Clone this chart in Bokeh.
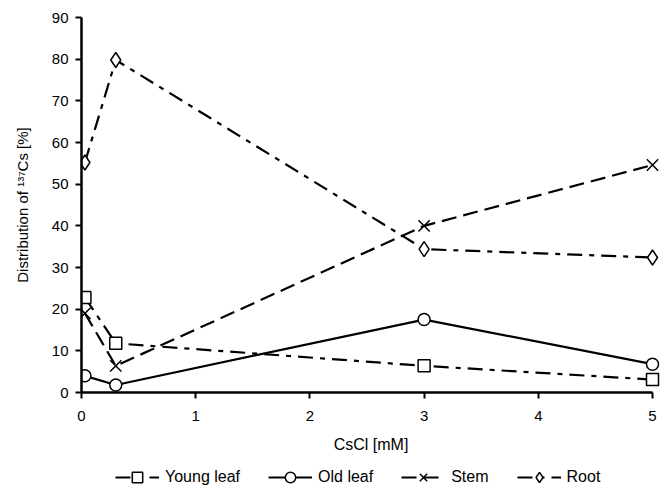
from bokeh.plotting import figure
from bokeh.models import Legend, LegendItem, Range1d, FixedTicker
from bokeh.layouts import column
from bokeh.embed import file_html
from bokeh.resources import INLINE

# Data
x_vals = [0.03, 0.3, 3, 5]
young_leaf = [22.8, 11.8, 6.4, 3.1]
old_leaf = [4.0, 1.8, 17.5, 6.8]
stem = [19.0, 6.4, 40.0, 54.6]
root = [55.2, 79.8, 34.4, 32.4]
x_ticks = [0, 1, 2, 3, 4, 5]
y_ticks = [0, 10, 20, 30, 40, 50, 60, 70, 80, 90]
series_names = ["Young leaf", "Old leaf", "Stem", "Root"]

FONT = "Liberation Sans"

p = figure(width=667, height=462, output_backend="svg", toolbar_location=None,
           x_range=Range1d(0, 5.07), y_range=Range1d(0, 90),
           min_border_left=81, min_border_right=7, min_border_top=17, min_border_bottom=70)
p.outline_line_color = None
p.xgrid.visible = False
p.ygrid.visible = False

for ax in (p.xaxis[0], p.yaxis[0]):
    ax.axis_line_width = 2.5
    ax.axis_line_color = "black"
    ax.major_tick_line_width = 2
    ax.major_tick_line_color = "black"
    ax.major_tick_out = 6
    ax.major_tick_in = 0
    ax.minor_tick_line_color = None
    ax.major_label_text_font = FONT
    ax.major_label_text_font_size = "15px"
    ax.major_label_text_color = "black"
    ax.axis_label_text_font = FONT
    ax.axis_label_text_font_style = "normal"
    ax.axis_label_text_color = "black"

p.xaxis.bounds = (0, 5)
p.xaxis.ticker = FixedTicker(ticks=x_ticks)
p.yaxis.ticker = FixedTicker(ticks=y_ticks)
p.xaxis.axis_label = "CsCl [mM]"
p.yaxis.axis_label = "Distribution of \u00b9\u00b3\u2077Cs [%]"
p.xaxis.axis_label_text_font_size = "16px"
p.yaxis.axis_label_text_font_size = "15px"
p.xaxis.major_label_standoff = 12
p.xaxis.axis_label_standoff = 12
p.yaxis.major_label_standoff = 7
p.yaxis.axis_label_standoff = 18

LW = 2.2
MS = 12

styles = [
    dict(dash="15 7 5 7", marker="square", size=MS, fill="white"),
    dict(dash="solid", marker="circle", size=MS, fill="white"),
    dict(dash="15 7", marker="x", size=MS + 4, fill=None),
    dict(dash="15 7 5 7", marker="diamond", size=MS + 3, fill="white"),
]
series = [young_leaf, old_leaf, stem, root]

for ys, st in zip(series, styles):
    p.line(x_vals, ys, line_color="black", line_width=LW, line_dash=st["dash"])
    p.scatter(x_vals, ys, marker=st["marker"], size=st["size"], fill_color=st["fill"],
              line_color="black", line_width=1.5)

# Legend strip below the chart (its renderers hold points outside the visible range)
lg = figure(width=667, height=30, output_backend="svg", toolbar_location=None,
            x_range=Range1d(0, 1), y_range=Range1d(0, 1),
            x_axis_type=None, y_axis_type=None, min_border=0)
lg.outline_line_color = None
lg.xgrid.visible = False
lg.ygrid.visible = False

items = []
for name, st in zip(series_names, styles):
    rl = lg.line([-10, -9], [-10, -10], line_color="black", line_width=LW, line_dash=st["dash"])
    rm = lg.scatter([-10], [-10], marker=st["marker"], size=st["size"] - 1, fill_color=st["fill"],
                    line_color="black", line_width=1.5)
    items.append(LegendItem(label=name, renderers=[rl, rm]))

legend = Legend(items=items, orientation="horizontal", location=(34, 2))
legend.label_text_font = FONT
legend.label_text_font_size = "16px"
legend.label_text_color = "black"
legend.glyph_width = 44
legend.glyph_height = 26
legend.spacing = 28
legend.label_standoff = 6
legend.border_line_color = None
legend.background_fill_alpha = 0
legend.padding = 0
legend.margin = 0
lg.add_layout(legend, "center")

layout = column(p, lg, spacing=0)
open("out.html", "w").write(file_html(layout, INLINE))
